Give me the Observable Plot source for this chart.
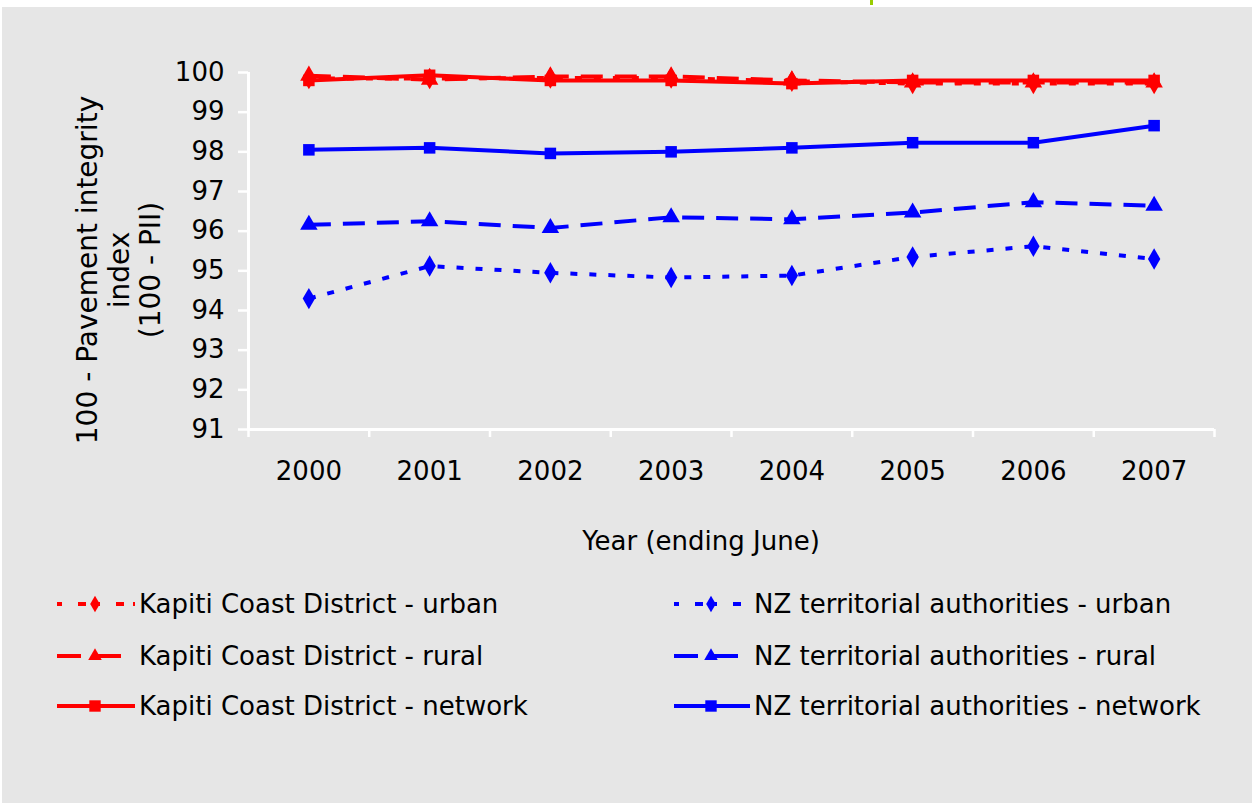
<!DOCTYPE html>
<html>
<head>
<meta charset="utf-8">
<script src="https://cdn.jsdelivr.net/npm/d3@7"></script>
<script src="https://cdn.jsdelivr.net/npm/@observablehq/plot@0.6"></script>
<style>
  html, body { margin: 0; padding: 0; background: #ffffff; }
  body { width: 1252px; height: 803px; position: relative; overflow: hidden; font-family: "DejaVu Sans", sans-serif; }
  #panel { position: absolute; left: 2px; top: 7px; width: 1250px; height: 796px; background: #e6e6e6; }
  #mark { position: absolute; left: 870px; top: 0px; width: 3px; height: 5px; background: #99cc00; }
  #chart { position: absolute; left: 0; top: 0; }
  .legend-item { position: absolute; height: 30px; display: flex; align-items: center; font-size: 26px; color: #000; white-space: nowrap; }
  .legend-item svg { flex: none; }
</style>
</head>
<body>
<div id="mark"></div>
<div id="panel">
  <div id="chart"></div>
  <div id="legend"></div>
</div>
<script>
// ---- data ----
const years = [2000, 2001, 2002, 2003, 2004, 2005, 2006, 2007];
const yTicks = [91, 92, 93, 94, 95, 96, 97, 98, 99, 100];
const kapitiUrban   = [99.85, 99.85, 99.86, 99.86, 99.78, 99.72, 99.72, 99.72];
const kapitiRural   = [99.92, 99.82, 99.90, 99.90, 99.80, 99.75, 99.75, 99.75];
const kapitiNetwork = [99.80, 99.93, 99.80, 99.80, 99.72, 99.80, 99.80, 99.80];
const nzUrban   = [94.30, 95.12, 94.95, 94.83, 94.88, 95.35, 95.62, 95.30];
const nzRural   = [96.16, 96.25, 96.08, 96.35, 96.30, 96.47, 96.73, 96.64];
const nzNetwork = [98.05, 98.10, 97.96, 98.00, 98.10, 98.23, 98.23, 98.66];

const seriesNames = [
  "Kapiti Coast District - urban",
  "Kapiti Coast District - rural",
  "Kapiti Coast District - network",
  "NZ territorial authorities - urban",
  "NZ territorial authorities - rural",
  "NZ territorial authorities - network"
];
const seriesValues = [kapitiUrban, kapitiRural, kapitiNetwork, nzUrban, nzRural, nzNetwork];
const seriesColors = ["#ff0000", "#ff0000", "#ff0000", "#0000ff", "#0000ff", "#0000ff"];
const seriesDash   = ["7 12", "22 12", null, "7 12", "22 12", null];
const seriesSymbol = ["diamond", "triangle", "square", "diamond", "triangle", "square"];

const series = seriesNames.map((name, i) => ({
  name, color: seriesColors[i], dash: seriesDash[i], symbol: seriesSymbol[i],
  data: years.map((y, j) => ({year: y, value: seriesValues[i][j]}))
}));

const bounds = d3.range(years.length + 1).map(i => years[0] - 0.5 + i);

const W = 1250, H = 570;
const drawOrder = [5, 4, 3, 2, 1, 0];
const marks = [
  Plot.ruleY([91], {stroke: "white", strokeWidth: 3}),
  Plot.ruleX([bounds[0]], {stroke: "white", strokeWidth: 3}),
  Plot.axisX({ticks: bounds, tickSize: 8, tickFormat: () => "", stroke: "white", strokeWidth: 2.5, label: null}),
  Plot.axisX({ticks: years, tickSize: 0, tickPadding: 32, tickFormat: d => String(d), fontSize: 26, fill: "black", label: null}),
  Plot.axisY({ticks: yTicks, tickSize: 10, tickPadding: 14, stroke: "white", strokeWidth: 2.5, fontSize: 26, fill: "black", label: null})
];
for (const i of drawOrder) {
  const s = series[i];
  marks.push(Plot.line(s.data, {x: "year", y: "value", stroke: s.color, strokeWidth: 4, strokeDasharray: s.dash || undefined, strokeLinecap: "butt"}));
  marks.push(Plot.dot(s.data, {x: "year", y: "value", fill: s.color, stroke: "none", symbol: () => s.symbol, r: 6.5}));
}

const chart = Plot.plot({
  width: W, height: H,
  marginLeft: 246, marginRight: 38, marginTop: 65, marginBottom: H - 422,
  style: {background: "transparent", fontFamily: "DejaVu Sans, sans-serif", fontSize: "26px", color: "black"},
  x: {domain: [bounds[0], bounds[bounds.length - 1]], axis: null, label: null},
  y: {domain: [91, 100], axis: null, label: null},
  symbol: {type: "identity"},
  marks
});
document.getElementById("chart").appendChild(chart);

// axis titles
const svg = d3.select(chart);
const ylab = svg.append("text")
  .attr("transform", "translate(0,263) rotate(-90)")
  .attr("text-anchor", "middle")
  .attr("font-size", 28)
  .attr("font-family", "DejaVu Sans, sans-serif")
  .attr("fill", "black");
[["100 - Pavement integrity", 95], ["index", 127], ["(100 - PII)", 158]].forEach(([t, x]) => {
  ylab.append("tspan").attr("x", 0).attr("y", x).text(t);
});
svg.append("text")
  .attr("x", 699).attr("y", 543)
  .attr("text-anchor", "middle")
  .attr("font-size", 26)
  .attr("font-family", "DejaVu Sans, sans-serif")
  .attr("fill", "black")
  .text("Year (ending June)");

// legend
const legend = document.getElementById("legend");
const cols = [{x0: 53, markX: 93 - 53, len: 80, textLeft: 137}, {x0: 670, markX: 709 - 670, len: 78, textLeft: 752}];
const rowsY = [597, 649, 699];
series.forEach((s, i) => {
  const c = cols[Math.floor(i / 3)], ry = rowsY[i % 3];
  const item = document.createElement("div");
  item.className = "legend-item";
  item.style.left = c.x0 + "px";
  item.style.top = (ry - 15) + "px";
  const ns = "http://www.w3.org/2000/svg";
  const sv = document.createElementNS(ns, "svg");
  sv.setAttribute("width", c.textLeft - c.x0);
  sv.setAttribute("height", 30);
  const ln = document.createElementNS(ns, "line");
  ln.setAttribute("x1", 2); ln.setAttribute("x2", c.len);
  ln.setAttribute("y1", 15); ln.setAttribute("y2", 15);
  ln.setAttribute("stroke", s.color); ln.setAttribute("stroke-width", 4);
  if (s.dash) { ln.setAttribute("stroke-dasharray", s.symbol === "diamond" ? "5 16 8 9" : "24 16"); }
  sv.appendChild(ln);
  const sym = d3.symbol(s.symbol === "diamond" ? d3.symbolDiamond : s.symbol === "triangle" ? d3.symbolTriangle : d3.symbolSquare, s.symbol === "square" ? 130 : 80)();
  const p = document.createElementNS(ns, "path");
  p.setAttribute("d", sym);
  p.setAttribute("transform", `translate(${c.markX},15)`);
  p.setAttribute("fill", s.color);
  sv.appendChild(p);
  item.appendChild(sv);
  const sp = document.createElement("span");
  sp.textContent = s.name;
  item.appendChild(sp);
  legend.appendChild(item);
});
</script>
</body>
</html>
